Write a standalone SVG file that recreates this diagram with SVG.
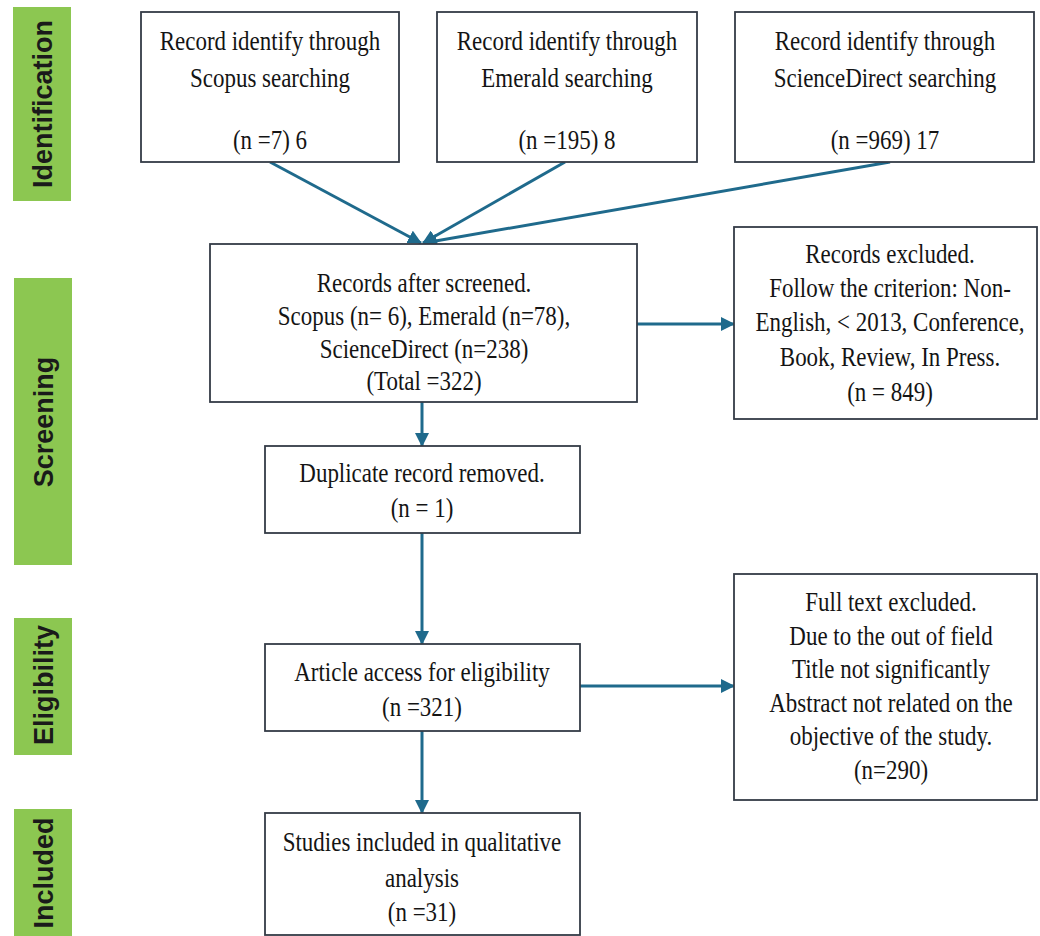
<svg xmlns="http://www.w3.org/2000/svg" width="1040" height="936" viewBox="0 0 1040 936">
<style>
.box{fill:#ffffff;stroke:#343b46;stroke-width:1.8}
.band{fill:#8cc751}
.lbl{font-family:"Liberation Sans",Arial,sans-serif;font-weight:bold;font-size:27px;fill:#1a1a1a;text-anchor:middle}
.t{font-family:"Liberation Serif","Times New Roman",serif;font-size:28px;fill:#141414;text-anchor:middle}
.c{stroke:#1f6a8c;stroke-width:3;fill:none;marker-end:url(#ah)}
</style>
<defs>
<marker id="ah" markerUnits="userSpaceOnUse" markerWidth="14" markerHeight="14" viewBox="0 0 14 14" refX="13" refY="7" orient="auto">
<path d="M0,0 L14,7 L0,14 z" fill="#1f6a8c"/>
</marker>
</defs>
<rect width="1040" height="936" fill="#ffffff"/>

<g id="stage-identification">
<rect class="band" x="13" y="7" width="58" height="194"/>
<text class="lbl" transform="translate(52,104) rotate(-90)">Identification</text>
</g>
<g id="stage-screening">
<rect class="band" x="14" y="278" width="58" height="287"/>
<text class="lbl" transform="translate(53,422) rotate(-90)">Screening</text>
</g>
<g id="stage-eligibility">
<rect class="band" x="14" y="618" width="58" height="137"/>
<text class="lbl" transform="translate(53,685) rotate(-90)">Eligibility</text>
</g>
<g id="stage-included">
<rect class="band" x="14" y="809" width="58" height="127"/>
<text class="lbl" transform="translate(53,873) rotate(-90)">Included</text>
</g>

<g id="connectors">
<line class="c" x1="270" y1="162" x2="421" y2="243"/>
<line class="c" x1="565" y1="162" x2="423" y2="243"/>
<line class="c" x1="890" y1="162" x2="424" y2="243"/>
<line class="c" x1="637" y1="324" x2="734" y2="324"/>
<line class="c" x1="422" y1="402" x2="422" y2="446"/>
<line class="c" x1="422" y1="533" x2="422" y2="644"/>
<line class="c" x1="580" y1="686" x2="734" y2="686"/>
<line class="c" x1="422" y1="731" x2="422" y2="813"/>
</g>

<g id="scopus">
<rect class="box" x="141" y="12" width="258" height="150"/>
<text class="t" transform="translate(270,0) scale(0.82,1)"><tspan x="0" y="50">Record identify  through</tspan><tspan x="0" y="87">Scopus searching</tspan><tspan x="0" y="149">(n =7) 6</tspan></text>
</g>
<g id="emerald">
<rect class="box" x="437" y="12" width="260" height="150"/>
<text class="t" transform="translate(567,0) scale(0.82,1)"><tspan x="0" y="50">Record identify  through</tspan><tspan x="0" y="87">Emerald searching</tspan><tspan x="0" y="149">(n =195) 8</tspan></text>
</g>
<g id="sciencedirect">
<rect class="box" x="735" y="12" width="299" height="150"/>
<text class="t" transform="translate(885,0) scale(0.82,1)"><tspan x="0" y="50">Record identify  through</tspan><tspan x="0" y="87">ScienceDirect searching</tspan><tspan x="0" y="149">(n =969) 17</tspan></text>
</g>
<g id="screened">
<rect class="box" x="210" y="244" width="427" height="158"/>
<text class="t" transform="translate(424,0) scale(0.82,1)"><tspan x="0" y="292">Records after screened.</tspan><tspan x="0" y="325">Scopus (n= 6), Emerald (n=78),</tspan><tspan x="0" y="358">ScienceDirect (n=238)</tspan><tspan x="0" y="390">(Total =322)</tspan></text>
</g>
<g id="excluded">
<rect class="box" x="734" y="227" width="303" height="192"/>
<text class="t" transform="translate(890,0) scale(0.82,1)"><tspan x="0" y="263">Records excluded.</tspan><tspan x="0" y="297">Follow  the criterion:  Non-</tspan><tspan x="0" y="331">English,  &lt; 2013,  Conference,</tspan><tspan x="0" y="366">Book,  Review,  In Press.</tspan><tspan x="0" y="401">(n = 849)</tspan></text>
</g>
<g id="duplicate">
<rect class="box" x="265" y="446" width="315" height="87"/>
<text class="t" transform="translate(422,0) scale(0.82,1)"><tspan x="0" y="482">Duplicate record removed.</tspan><tspan x="0" y="517">(n = 1)</tspan></text>
</g>
<g id="article">
<rect class="box" x="265" y="644" width="315" height="87"/>
<text class="t" transform="translate(422,0) scale(0.82,1)"><tspan x="0" y="681">Article access for eligibility</tspan><tspan x="0" y="716">(n =321)</tspan></text>
</g>
<g id="fulltext">
<rect class="box" x="734" y="574" width="303" height="226"/>
<text class="t" transform="translate(891,0) scale(0.82,1)"><tspan x="0" y="611">Full  text excluded.</tspan><tspan x="0" y="645">Due to the out of field</tspan><tspan x="0" y="678">Title not significantly</tspan><tspan x="0" y="712">Abstract not related on the</tspan><tspan x="0" y="745">objective  of the study.</tspan><tspan x="0" y="779">(n=290)</tspan></text>
</g>
<g id="studies">
<rect class="box" x="265" y="813" width="315" height="122"/>
<text class="t" transform="translate(422,0) scale(0.82,1)"><tspan x="0" y="851">Studies included  in qualitative</tspan><tspan x="0" y="887">analysis</tspan><tspan x="0" y="921">(n =31)</tspan></text>
</g>
</svg>
